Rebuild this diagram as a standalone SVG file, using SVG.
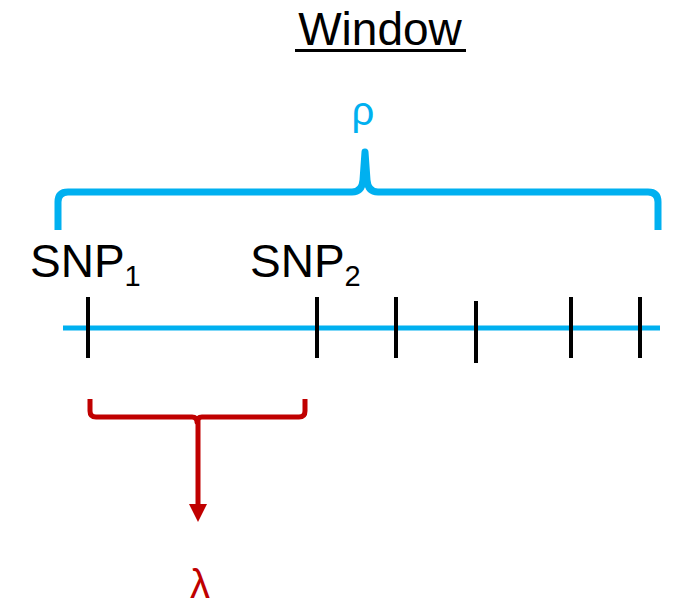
<svg xmlns="http://www.w3.org/2000/svg" width="674" height="599" viewBox="0 0 674 599">
<style>
.t{font-family:"Liberation Sans",Arial,sans-serif;}
.tick{stroke:#000;stroke-width:4;}
</style>
<defs>
<marker id="ah" markerWidth="6" markerHeight="6" refX="3" refY="3" orient="auto" markerUnits="userSpaceOnUse" viewBox="0 0 6 6">
<path d="M0,0 L6,3 L0,6 z" fill="#C00000"/>
</marker>
</defs>
<rect width="674" height="599" fill="#fff"/>
<g id="title">
<text class="t" x="380" y="45" font-size="46" text-anchor="middle" fill="#000">Window</text>
<rect x="295" y="49" width="171" height="3" fill="#000"/>
</g>
<g id="rho">
<text class="t" x="363" y="125" font-size="40" text-anchor="middle" fill="#00B0F0">ρ</text>
</g>
<g id="brace">
<path d="M58,230 L58,202 Q58,192 68,192 L352,192 Q362,192 363,180 L365,152 L367,180 Q368,192 378,192 L648,192 Q658,192 658,202 L658,230" fill="none" stroke="#00B0F0" stroke-width="7" stroke-linejoin="round"/>
</g>
<g id="axis">
<line x1="63" y1="328" x2="660" y2="328" stroke="#00B0F0" stroke-width="5"/>
<line class="tick" x1="88" y1="297" x2="88" y2="358"/>
<line class="tick" x1="317" y1="297" x2="317" y2="358"/>
<line class="tick" x1="396" y1="297" x2="396" y2="358"/>
<line class="tick" x1="476" y1="301" x2="476" y2="363"/>
<line class="tick" x1="571" y1="297" x2="571" y2="358"/>
<line class="tick" x1="640" y1="297" x2="640" y2="358"/>
</g>
<g id="snp1">
<text class="t" x="30" y="277" font-size="46" fill="#000">SNP<tspan font-size="29" dy="9">1</tspan></text>
</g>
<g id="snp2">
<text class="t" x="250" y="277" font-size="46" fill="#000">SNP<tspan font-size="29" dy="9">2</tspan></text>
</g>
<g id="connectors">
<path d="M90,399 L90,411 Q90,417 96,417 L192,417 Q197,417 197,422 Q197,417 202,417 L299,417 Q305,417 305,411 L305,399" fill="none" stroke="#C00000" stroke-width="5" stroke-linejoin="round"/>
<line x1="198" y1="419" x2="198" y2="506" stroke="#C00000" stroke-width="5"/>
<path d="M189,504 L207,504 L198,522 z" fill="#C00000"/>
</g>
<g id="lambda">
<text class="t" x="200" y="598" font-size="40" text-anchor="middle" fill="#C00000">λ</text>
</g>
</svg>
